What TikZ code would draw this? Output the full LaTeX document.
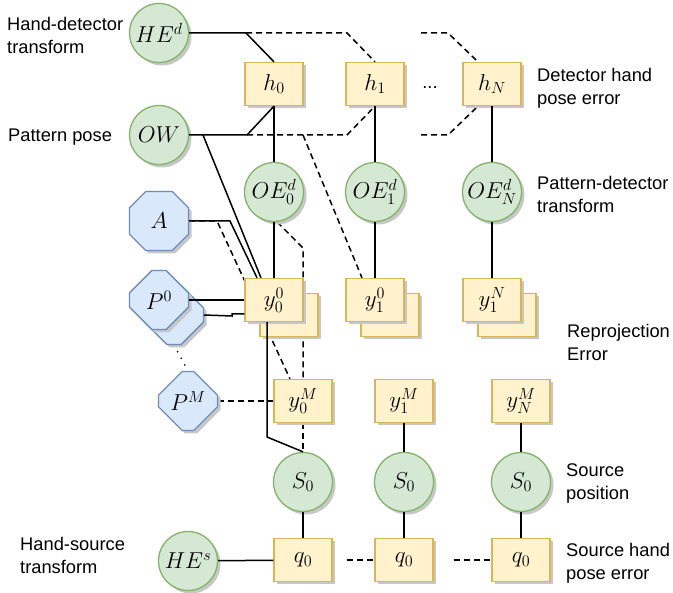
\RequirePackage{fix-cm}
\documentclass[tikz,border=0pt]{standalone}
\usepackage{fontspec}
\setmainfont{Liberation Sans}
\usetikzlibrary{shapes.misc,shadows}
\definecolor{gfill}{HTML}{D5E8D4}
\definecolor{gline}{HTML}{82B366}
\definecolor{yfill}{HTML}{FFF2CC}
\definecolor{yline}{HTML}{D6B656}
\definecolor{bfill}{HTML}{DAE8FC}
\definecolor{bline}{HTML}{6C8EBF}
\newcommand\diagmath{\fontsize{23}{23}\selectfont}
\newcommand\diagtext{\fontsize{18.3}{23}\selectfont}
\pgfdeclarelayer{bg}
\pgfsetlayers{bg,main}
\begin{document}
\begin{tikzpicture}[x=1pt,y=-1pt,
  shd/.style={drop shadow={shadow xshift=3pt,shadow yshift=-3pt,fill=black!22,opacity=1}},
  var/.style={circle,draw=gline,fill=gfill,line width=1.3pt,minimum size=59pt,inner sep=0pt,shd,font=\diagmath},
  fac/.style={rectangle,draw=yline,fill=yfill,line width=1.3pt,minimum width=58pt,minimum height=43pt,inner sep=0pt,shd,font=\diagmath},
  oct/.style={chamfered rectangle,chamfered rectangle xsep=14pt,chamfered rectangle ysep=14pt,draw=bline,fill=bfill,line width=1.3pt,minimum width=59pt,minimum height=59pt,inner sep=0pt,shd,font=\diagmath},
  lbl/.style={font=\diagtext,align=left,inner sep=0pt},
  ln/.style={line width=1.5pt,black},
  dsh/.style={line width=1.5pt,black,dash pattern=on 6pt off 4pt},
  dts/.style={line width=1.8pt,black,line cap=round,dash pattern=on 0pt off 7.5pt}
]
\useasboundingbox (0,0) rectangle (673,593);

% labels (anchored at the baseline of their last line)
\node[lbl,anchor=base west] (lHEd) at (7,54) {Hand-detector\\transform};
\node[lbl,anchor=base west] (lOW) at (8,142) {Pattern pose};
\node[lbl,anchor=base west] (lh) at (537,105) {Detector hand\\pose error};
\node[lbl,anchor=base west] (lOE) at (537,213) {Pattern-detector\\transform};
\node[lbl,anchor=base west] (lrep) at (567,361) {Reprojection\\Error};
\node[lbl,anchor=base west] (lS) at (566,500) {Source\\position};
\node[lbl,anchor=base west] (lHEs) at (20,574) {Hand-source\\transform};
\node[lbl,anchor=base west] (lq) at (566,580) {Source hand\\pose error};
\node[lbl] (hdots) at (430,88) {...};

% variable nodes
\node[var] (HEd) at (159,33) {$HE^d$};
\node[var] (OW) at (159,135) {$OW$};
\node[fac] (h0) at (274,84) {$h_0$};
\node[fac] (h1) at (375,84) {$h_1$};
\node[fac] (hN) at (492,84) {$h_N$};
\node[var] (OE0) at (274,192) {$OE_0^d$};
\node[var] (OE1) at (375,192) {$OE_1^d$};
\node[var] (OEN) at (492,192) {$OE_N^d$};
\node[oct] (A) at (159,221) {$A$};
\node[oct] (P0b) at (174,315) {\phantom{$P^0$}};
\node[oct] (P0) at (159,300) {$P^0$};
\node[oct] (PM) at (188,401) {$P^M$};
\node[fac] (y00b) at (289,315) {};
\node[fac] (y00) at (274,300) {$y_0^0$};
\node[fac] (y10b) at (390,315) {};
\node[fac] (y10) at (375,300) {$y_1^0$};
\node[fac] (y1Nb) at (507,315) {};
\node[fac] (y1N) at (492,300) {$y_1^N$};
\node[fac] (y0M) at (303,401) {$y_0^M$};
\node[fac] (y1M) at (404,401) {$y_1^M$};
\node[fac] (yNM) at (521,401) {$y_N^M$};
\node[var] (S0a) at (303,482) {$S_0$};
\node[var] (S0b) at (404,482) {$S_0$};
\node[var] (S0c) at (521,482) {$S_0$};
\node[var] (HEs) at (188,561) {$HE^s$};
\node[fac] (q0a) at (303,560) {$q_0$};
\node[fac] (q0b) at (404,560) {$q_0$};
\node[fac] (q0c) at (521,560) {$q_0$};

% bend points
\coordinate (kHE) at (246,33);
\coordinate (kHE1) at (347,33);
\coordinate (sHEN) at (421,33);
\coordinate (kHEN) at (448,33);
\coordinate (kOW) at (247,135);
\coordinate (kOW1) at (347,135);
\coordinate (sOWN) at (421,135);
\coordinate (kOWN) at (448,135);
\coordinate (kOWy) at (303,135);
\coordinate (kOWs) at (203,135);
\coordinate (kA) at (230,221);
\coordinate (kAd) at (217,221);
\coordinate (kOE) at (303,248);
\coordinate (kyS) at (267,437);
\coordinate (kP1) at (232,316);
\coordinate (kP2) at (232,314);

\begin{pgfonlayer}{bg}
\draw[dsh] (kHE) -- (kHE1) -- (h1.north);
\draw[dsh] (sHEN) -- (kHEN) -- ([xshift=-14pt]hN.north);
\draw[dsh] (kOW) -- (kOW1) -- (h1.south);
\draw[dsh] (sOWN) -- (kOWN) -- ([xshift=-14pt]hN.south);
\draw[dsh] (kOWy) -- ([xshift=-13pt]y10.north);
\draw[dsh] (A.east) -- (kAd) -- ([xshift=-13pt]y0M.north);
\draw[dsh] (OE0.-84) -- (kOE) -- (y0M.north);
\draw[dsh] (y0M.south) -- (S0a.north);
\draw[dsh] (PM.east) -- (y0M.west);
\draw[dsh,shorten <=14pt] (q0a.east) -- (q0b.west);
\draw[dsh,shorten <=20pt] (q0b.east) -- (q0c.west);
\draw[dts] (P0b.south) -- (PM.north);
\end{pgfonlayer}

\draw[ln] (HEd.east) -- (kHE) -- (h0.north);
\draw[ln] (OW.east) -- (kOW) -- (h0.south);
\draw[ln] (kOWs) -- ([xshift=-13pt]y00.north);
\draw[ln] (A.east) -- (kA) -- ([xshift=-17pt]y00.north);
\draw[ln] (h0) -- (OE0);
\draw[ln] (OE0) -- (y00);
\draw[ln] (h1) -- (OE1);
\draw[ln] (OE1) -- (y10);
\draw[ln] (hN) -- (OEN);
\draw[ln] (OEN) -- (y1N);
\draw[ln] (P0.east) -- (y00.west);
\draw[ln] (P0b.east) -- (kP1) -- (kP2) -- ([yshift=-14pt]y00.west);
\draw[ln] ([xshift=-7pt]y00.south) -- (kyS) -- (S0a.north);
\draw[ln] (y1M) -- (S0b);
\draw[ln] (yNM) -- (S0c);
\draw[ln] (S0a) -- (q0a);
\draw[ln] (S0b) -- (q0b);
\draw[ln] (S0c) -- (q0c);
\draw[ln] (HEs) -- (q0a);
\end{tikzpicture}
\end{document}
